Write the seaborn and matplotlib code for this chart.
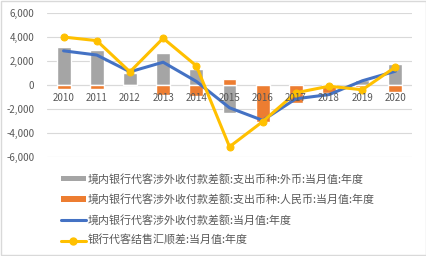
import matplotlib
matplotlib.use("Agg")
import matplotlib.pyplot as plt
import seaborn as sns
import numpy as np
import pandas as pd
from matplotlib.patches import Patch, Rectangle
from matplotlib.lines import Line2D

years = ["2010", "2011", "2012", "2013", "2014", "2015", "2016", "2017", "2018", "2019", "2020"]
foreign = [3200, 2900, 1000, 2700, 1350, -2350, 100, 0, 0, 400, 1750]
rmb = [-350, -350, 0, -850, -950, 500, -3100, -1500, -700, -150, -600]
total = [2850, 2500, 1100, 1900, 300, -1900, -2950, -1150, -800, 350, 1150]
settle = [4000, 3700, 1100, 3900, 1600, -5150, -3050, -650, -100, -400, 1500]
yticks = [-6000, -4000, -2000, 0, 2000, 4000, 6000]

labels = ["境内银行代客涉外收付款差额:支出币种:外币:当月值:年度",
          "境内银行代客涉外收付款差额:支出币种:人民币:当月值:年度",
          "境内银行代客涉外收付款差额:当月值:年度",
          "银行代客结售汇顺差:当月值:年度"]

sns.set_theme(style="white")
plt.rcParams['font.family'] = ['Noto Sans CJK SC', 'DejaVu Sans']

c_gray, c_orange, c_blue, c_yellow = "#A5A5A5", "#ED7D31", "#4472C4", "#FFC000"

fig = plt.figure(figsize=(4.27, 2.56), dpi=100)
ax = fig.add_axes([0.11, 0.387, 0.855, 0.562])

df = pd.DataFrame({"year": years, "foreign": foreign, "rmb": rmb,
                   "total": total, "settle": settle})
df["pos"] = np.arange(len(years))

for i, yv in enumerate(yticks):
    ax.axhline(yv, color="#D9D9D9", lw=0.8, zorder=0)

sns.barplot(data=df, x="year", y="foreign", color=c_gray, width=0.42,
            saturation=1, ax=ax, zorder=2)
sns.barplot(data=df, x="year", y="rmb", color=c_orange, width=0.42,
            saturation=1, ax=ax, zorder=2)
sns.lineplot(data=df, x="pos", y="total", color=c_blue, lw=2.2, ax=ax, zorder=3)
sns.lineplot(data=df, x="pos", y="settle", color=c_yellow, lw=2.2, marker="o",
             markersize=5, markeredgecolor=c_yellow, ax=ax, zorder=4)

ax.set_xlim(-0.5, len(years) - 0.5)
ax.set_ylim(-6000, 6000)
ax.set_yticks(yticks)
ax.set_yticklabels([f"{v:,}" for v in yticks], color="#595959", fontsize=7)
ax.tick_params(axis="y", length=0, pad=9)
ax.set_xticks([])
ax.set_xlabel("")
ax.set_ylabel("")
for s in ax.spines.values():
    s.set_visible(False)
ax.axhline(0, color="#D9D9D9", lw=0.8, zorder=1)

for i, y in enumerate(years):
    ax.annotate(y, (i, 0), xytext=(0, -9.5), textcoords="offset points",
                ha="center", va="center", fontsize=7, color="#595959", zorder=5)

handles = [Patch(facecolor=c_gray, edgecolor="none"),
           Patch(facecolor=c_orange, edgecolor="none"),
           Line2D([], [], color=c_blue, lw=2.2),
           Line2D([], [], color=c_yellow, lw=2.2, marker="o", markersize=5)]
leg = fig.legend(handles, labels, loc="upper left", bbox_to_anchor=(0.142, 0.322),
                 frameon=False, fontsize=7.9, handlelength=2.3, handleheight=0.45,
                 handletextpad=0.2, labelspacing=0.88, borderaxespad=0, borderpad=0)
for t in leg.get_texts():
    t.set_color("#595959")

fig.patches.append(Rectangle((0.002, 0.004), 0.995, 0.992, transform=fig.transFigure,
                             fill=False, edgecolor="#D9D9D9", lw=1))
fig.savefig("out.png", dpi=100)
